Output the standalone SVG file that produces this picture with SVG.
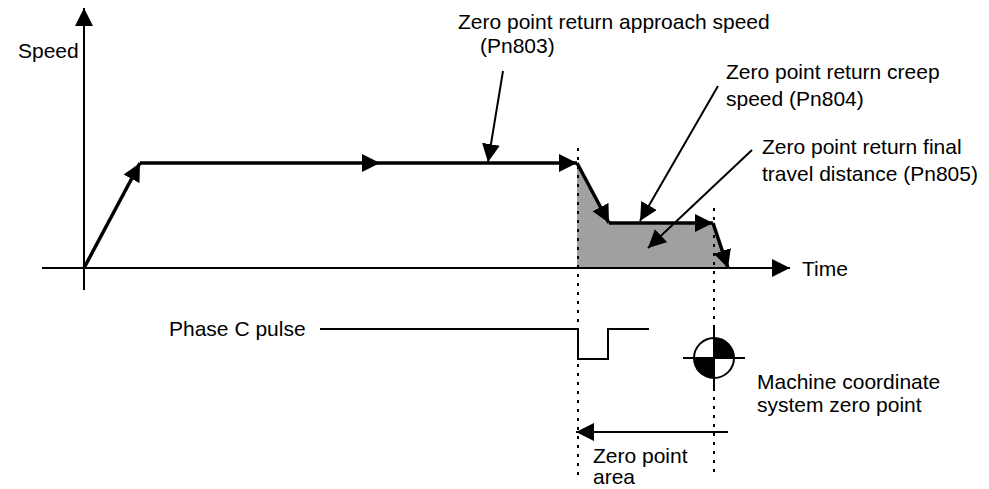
<svg xmlns="http://www.w3.org/2000/svg" width="989" height="489" viewBox="0 0 989 489">
  <style>
    text { font-family: "Liberation Sans", Arial, Helvetica, sans-serif; font-size: 21px; fill: #000; }
    .axis { stroke: #000; stroke-width: 2; fill: none; }
    .curve { stroke: #000; stroke-width: 3.5; fill: none; }
    .pointer { stroke: #000; stroke-width: 2; fill: none; }
    .dotted { stroke: #000; stroke-width: 2; stroke-dasharray: 3 6; fill: none; }
    .pulse { stroke: #000; stroke-width: 2; fill: none; }
  </style>
  <defs>
    <marker id="head" markerUnits="userSpaceOnUse" markerWidth="19" markerHeight="19" refX="18" refY="9" orient="auto" viewBox="0 0 19 19">
      <path d="M0,0 L18,9 L0,18 Z" fill="#000"/>
    </marker>
  </defs>

  <rect width="989" height="489" fill="#fff"/>

  <!-- zero point area (shaded region under the final approach) -->
  <g id="zero-area-fill">
    <polygon points="577,163 609,223 713,223 728,268 577,268" fill="#a0a0a0"/>
  </g>

  <!-- axes -->
  <g id="speed-axis">
    <line class="axis" x1="84" y1="290" x2="84" y2="8" marker-end="url(#head)"/>
    <text x="18" y="58">Speed</text>
  </g>
  <g id="time-axis">
    <line class="axis" x1="42" y1="268" x2="790" y2="268" marker-end="url(#head)"/>
    <text x="802" y="276">Time</text>
  </g>

  <!-- dotted guide lines -->
  <g id="guides">
    <line class="dotted" x1="578" y1="148" x2="578" y2="476"/>
    <line class="dotted" x1="714" y1="208" x2="714" y2="478"/>
  </g>

  <!-- speed profile and callout connectors -->
  <g id="connectors">
    <line class="curve" x1="84" y1="268" x2="140" y2="163" marker-end="url(#head)"/>
    <line class="curve" x1="140" y1="163" x2="380" y2="163" marker-end="url(#head)"/>
    <line class="curve" x1="380" y1="163" x2="577" y2="163" marker-end="url(#head)"/>
    <line class="curve" x1="577" y1="163" x2="609" y2="223" marker-end="url(#head)"/>
    <line class="curve" x1="609" y1="223" x2="713" y2="223" marker-end="url(#head)"/>
    <line class="curve" x1="713" y1="223" x2="728" y2="268" marker-end="url(#head)"/>

    <line class="pointer" x1="503" y1="71" x2="488" y2="162" marker-end="url(#head)"/>
    <line class="pointer" x1="718" y1="86" x2="640" y2="221" marker-end="url(#head)"/>
    <line class="pointer" x1="752" y1="150" x2="648" y2="248" marker-end="url(#head)"/>

    <line class="pointer" x1="728" y1="432" x2="576" y2="432" marker-end="url(#head)"/>
  </g>

  <!-- labels -->
  <g id="approach-speed">
    <text x="458" y="29">Zero point return approach speed</text>
    <text x="480" y="53">(Pn803)</text>
  </g>
  <g id="creep-speed">
    <text x="726" y="79">Zero point return creep</text>
    <text x="726" y="106">speed (Pn804)</text>
  </g>
  <g id="final-distance">
    <text x="762" y="154">Zero point return final</text>
    <text x="762" y="181">travel distance (Pn805)</text>
  </g>

  <!-- phase C pulse signal -->
  <g id="phase-c-pulse">
    <text x="169" y="336">Phase C pulse</text>
    <path class="pulse" d="M320,329 H578 V359 H608 V329 H649"/>
  </g>

  <!-- machine coordinate zero point symbol -->
  <g id="machine-zero">
    <path d="M714,358 V338 A20,20 0 0 1 734,358 Z" fill="#000"/>
    <path d="M714,358 V378 A20,20 0 0 1 694,358 Z" fill="#000"/>
    <circle cx="714" cy="358" r="20" fill="none" stroke="#000" stroke-width="2"/>
    <line x1="683" y1="358" x2="745" y2="358" stroke="#000" stroke-width="2"/>
    <line x1="714" y1="328" x2="714" y2="390" stroke="#000" stroke-width="2"/>
    <text x="757" y="389">Machine coordinate</text>
    <text x="757" y="412">system zero point</text>
  </g>

  <g id="zero-point-area">
    <text x="593" y="463">Zero point</text>
    <text x="593" y="484">area</text>
  </g>
</svg>
